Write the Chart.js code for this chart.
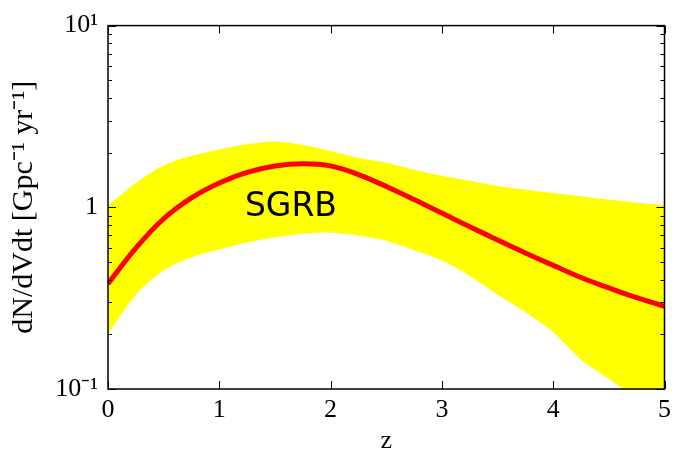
<!DOCTYPE html>
<html>
<head>
<meta charset="utf-8">
<script src="https://cdn.jsdelivr.net/npm/chart.js@4/dist/chart.umd.min.js"></script>
<style>
  body { margin: 0; background: #fff; }
  #wrap { width: 677px; height: 452px; }
</style>
</head>
<body>
<div id="wrap"><canvas id="rateChart"></canvas></div>
<script>
// redshift grid
const zValues = [0, 0.25, 0.5, 0.75, 1, 1.25, 1.5, 1.75, 2, 2.25, 2.5, 2.75, 3, 3.25, 3.5, 3.75, 4, 4.25, 4.5, 4.75, 5];
// median SGRB rate
const medianRate = [0.38, 0.596, 0.865, 1.127, 1.361, 1.556, 1.687, 1.738, 1.69, 1.514, 1.303, 1.104, 0.929, 0.782, 0.661, 0.561, 0.479, 0.411, 0.36, 0.318, 0.285];
// upper and lower edge of the band
const upperRate = [1.02, 1.36, 1.7, 1.92, 2.08, 2.22, 2.3, 2.2, 2.04, 1.87, 1.76, 1.61, 1.49, 1.4, 1.31, 1.25, 1.2, 1.15, 1.1, 1.06, 1.03];
const lowerRate = [0.2, 0.33, 0.45, 0.53, 0.585, 0.64, 0.685, 0.715, 0.725, 0.7, 0.655, 0.58, 0.51, 0.42, 0.33, 0.265, 0.205, 0.145, 0.114, 0.088, 0.07];
// tick labels
const xTicks = [0, 1, 2, 3, 4, 5];
const yTicks = [0.1, 1, 10];
const yTickLabels = { 0.1: '10\u207B\u00B9', 1: '1', 10: '10\u00B9' };

const toPoints = arr => arr.map((v, i) => ({ x: zValues[i], y: v }));

const serif = 'Liberation Serif';

// frame + inward ticks on all four sides, matplotlib classic style
const framePlugin = {
  id: 'frame',
  afterDraw(chart) {
    const { ctx, chartArea: a, scales: { x, y } } = chart;
    ctx.save();
    ctx.strokeStyle = '#000';
    ctx.lineWidth = 1;
    ctx.beginPath();
    xTicks.forEach(t => {
      const px = Math.round(x.getPixelForValue(t)) + 0.5;
      ctx.moveTo(px, a.bottom); ctx.lineTo(px, a.bottom - 8);
      ctx.moveTo(px, a.top); ctx.lineTo(px, a.top + 8);
    });
    yTicks.forEach(t => {
      const py = Math.round(y.getPixelForValue(t)) + 0.5;
      ctx.moveTo(a.left, py); ctx.lineTo(a.left + 8, py);
      ctx.moveTo(a.right, py); ctx.lineTo(a.right - 8, py);
    });
    [0.1, 1].forEach(dec => {
      for (let m = 2; m <= 9; m++) {
        const py = Math.round(y.getPixelForValue(dec * m)) + 0.5;
        ctx.moveTo(a.left, py); ctx.lineTo(a.left + 4, py);
        ctx.moveTo(a.right, py); ctx.lineTo(a.right - 4, py);
      }
    });
    ctx.stroke();
    ctx.lineWidth = 1.5;
    ctx.strokeRect(a.left, a.top, a.right - a.left, a.bottom - a.top);
    // band label
    ctx.fillStyle = '#000';
    ctx.font = '33px "DejaVu Sans"';
    ctx.textBaseline = 'middle';
    ctx.fillText('SGRB', x.getPixelForValue(1.23), y.getPixelForValue(1.0));
    ctx.restore();
  }
};

const ctx = document.getElementById('rateChart').getContext('2d');
const rateChart = new Chart(ctx, {
  type: 'line',
  data: {
    datasets: [{
      label: 'median',
      data: toPoints(medianRate),
      borderColor: '#ff0000',
      borderWidth: 5,
      pointRadius: 0,
      fill: false,
      tension: 0.4,
      order: 0
    }, {
      label: 'upper',
      data: toPoints(upperRate),
      borderWidth: 0,
      borderColor: 'rgba(0,0,0,0)',
      pointRadius: 0,
      fill: false,
      tension: 0.3,
      order: 2
    }, {
      label: 'lower',
      data: toPoints(lowerRate),
      borderWidth: 0,
      borderColor: 'rgba(0,0,0,0)',
      backgroundColor: '#ffff00',
      pointRadius: 0,
      fill: '-1',
      tension: 0.3,
      order: 1
    }]
  },
  options: {
    responsive: true,
    maintainAspectRatio: false,
    animation: false,
    layout: { padding: { left: 0, right: 9, top: 24, bottom: 0 } },
    plugins: { legend: { display: false }, tooltip: { enabled: false } },
    scales: {
      x: {
        type: 'linear',
        min: 0,
        max: 5,
        grid: { display: false, drawTicks: false },
        border: { display: false },
        afterBuildTicks: s => { s.ticks = xTicks.map(v => ({ value: v })); },
        afterFit: s => { s.height = 63; },
        ticks: { color: '#000', font: { family: serif, size: 26 }, padding: 6, maxRotation: 0 },
        title: { display: true, text: 'z', color: '#000', font: { family: serif, size: 26, lineHeight: 1 }, padding: { top: 0, bottom: -2 } }
      },
      y: {
        type: 'logarithmic',
        min: 0.1,
        max: 10,
        grid: { display: false, drawTicks: false },
        border: { display: false },
        afterBuildTicks: s => { s.ticks = yTicks.map(v => ({ value: v })); },
        afterFit: s => { s.width = 108; },
        ticks: { color: '#000', font: { family: serif, size: 26 }, padding: 10, callback: v => yTickLabels[v] },
        title: { display: true, text: 'dN/dVdt [Gpc\u207B\u00B9 yr\u207B\u00B9]', color: '#000', font: { family: serif, size: 30 }, padding: { top: 6, bottom: 0 } }
      }
    }
  },
  plugins: [framePlugin]
});
</script>
</body>
</html>
